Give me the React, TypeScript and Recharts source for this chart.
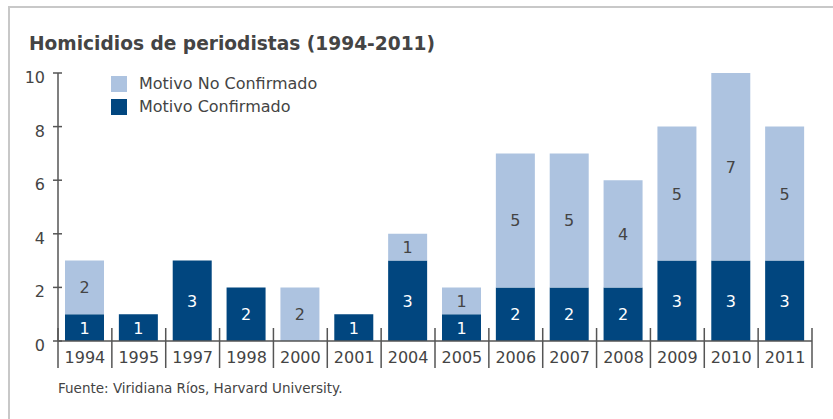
import { Bar, BarChart, LabelList, XAxis, YAxis } from "recharts";

const YEARS = ["1994", "1995", "1997", "1998", "2000", "2001", "2004", "2005", "2006", "2007", "2008", "2009", "2010", "2011"];
const CONFIRMED = [1, 1, 3, 2, 0, 1, 3, 1, 2, 2, 2, 3, 3, 3];
const UNCONFIRMED = [2, 0, 0, 0, 2, 0, 1, 1, 5, 5, 4, 5, 7, 5];
const Y_TICKS = [0, 2, 4, 6, 8, 10];
const LEGEND = [
  { label: "Motivo No Confirmado", key: "unconfirmed" },
  { label: "Motivo Confirmado", key: "confirmed" },
];

const DARK = "#01467f";
const LIGHT = "#adc3e0";
const TEXT = "#444";
const AXIS = "#555";
const FONT = "'DejaVu Sans', Verdana, sans-serif";

const W = 833;
const H = 419;
const MARGIN = { top: 73, right: 21, left: 0, bottom: 48 };
const Y_WIDTH = 58;
const X_HEIGHT = 30;
const BAND = (W - MARGIN.left - MARGIN.right - Y_WIDTH) / YEARS.length;

const data = YEARS.map((year, i) => ({
  year,
  confirmed: CONFIRMED[i],
  unconfirmed: UNCONFIRMED[i],
}));

function YearTick(props: any) {
  const { x, y, payload, index } = props;
  const left = x - BAND / 2;
  return (
    <g>
      <line x1={left} x2={left} y1={y - 13} y2={y + 27} stroke={AXIS} strokeWidth={1.5} />
      {index === YEARS.length - 1 && (
        <line x1={x + BAND / 2} x2={x + BAND / 2} y1={y - 13} y2={y + 27} stroke={AXIS} strokeWidth={1.5} />
      )}
      <text x={x} y={y + 22} textAnchor="middle" fill={TEXT} fontSize={16} fontFamily={FONT}>
        {payload.value}
      </text>
    </g>
  );
}

function ValueTick(props: any) {
  const { x, y, payload } = props;
  return (
    <g>
      <line x1={x - 5} x2={x + 4} y1={y} y2={y} stroke={AXIS} strokeWidth={1.5} />
      <text x={x - 13} y={y + 10} textAnchor="end" fill={TEXT} fontSize={16} fontFamily={FONT}>
        {payload.value}
      </text>
    </g>
  );
}

function segmentLabel(color: string) {
  return (props: any) => {
    const { x, y, width, height, value } = props;
    if (!value) return null;
    return (
      <text
        x={x + width / 2}
        y={y + height / 2 + 6}
        textAnchor="middle"
        fill={color}
        fontSize={16}
        fontFamily={FONT}
      >
        {value}
      </text>
    );
  };
}

export default function App() {
  return (
    <div style={{ position: "relative", width: W, height: H, background: "#fff", overflow: "hidden" }}>
      <style>{"body{margin:0}"}</style>
      <div
        style={{
          position: "absolute",
          left: 8,
          top: 6,
          right: -4,
          bottom: -4,
          borderTop: "2px solid #c8c8c8",
          borderLeft: "2px solid #c8c8c8",
        }}
      />
      <div
        style={{
          position: "absolute",
          left: 29,
          top: 33,
          fontFamily: FONT,
          fontWeight: "bold",
          fontSize: 18.6,
          color: TEXT,
          whiteSpace: "nowrap",
        }}
      >
        Homicidios de periodistas (1994-2011)
      </div>
      <div
        style={{
          position: "absolute",
          left: 58,
          top: 380,
          fontFamily: FONT,
          fontSize: 13.5,
          color: TEXT,
          whiteSpace: "nowrap",
        }}
      >
        Fuente: Viridiana Ríos, Harvard University.
      </div>
      <div style={{ position: "absolute", left: 0, top: 0 }}>
        <BarChart width={W} height={H} data={data} margin={MARGIN} barSize={39}>
          <XAxis
            dataKey="year"
            height={X_HEIGHT}
            tickLine={false}
            tickSize={0}
            tickMargin={0}
            stroke={AXIS}
            strokeWidth={1.5}
            interval={0}
            tick={<YearTick />}
          />
          <YAxis
            width={Y_WIDTH}
            domain={[0, 10]}
            ticks={Y_TICKS}
            tickLine={false}
            tickSize={0}
            tickMargin={0}
            stroke={AXIS}
            strokeWidth={1.5}
            tick={<ValueTick />}
          />
          <Bar dataKey="confirmed" stackId="a" fill={DARK} isAnimationActive={false}>
            <LabelList dataKey="confirmed" content={segmentLabel("#fff")} />
          </Bar>
          <Bar dataKey="unconfirmed" stackId="a" fill={LIGHT} isAnimationActive={false}>
            <LabelList dataKey="unconfirmed" content={segmentLabel(TEXT)} />
          </Bar>
        </BarChart>
      </div>
      <div style={{ position: "absolute", left: 111, top: 72 }}>
        {LEGEND.map((it) => (
          <div key={it.key} style={{ display: "flex", alignItems: "center", height: 23 }}>
            <span
              style={{
                width: 16,
                height: 16,
                background: it.key === "confirmed" ? DARK : LIGHT,
                display: "inline-block",
              }}
            />
            <span style={{ marginLeft: 12, color: TEXT, fontSize: 16, fontFamily: FONT }}>{it.label}</span>
          </div>
        ))}
      </div>
    </div>
  );
}
